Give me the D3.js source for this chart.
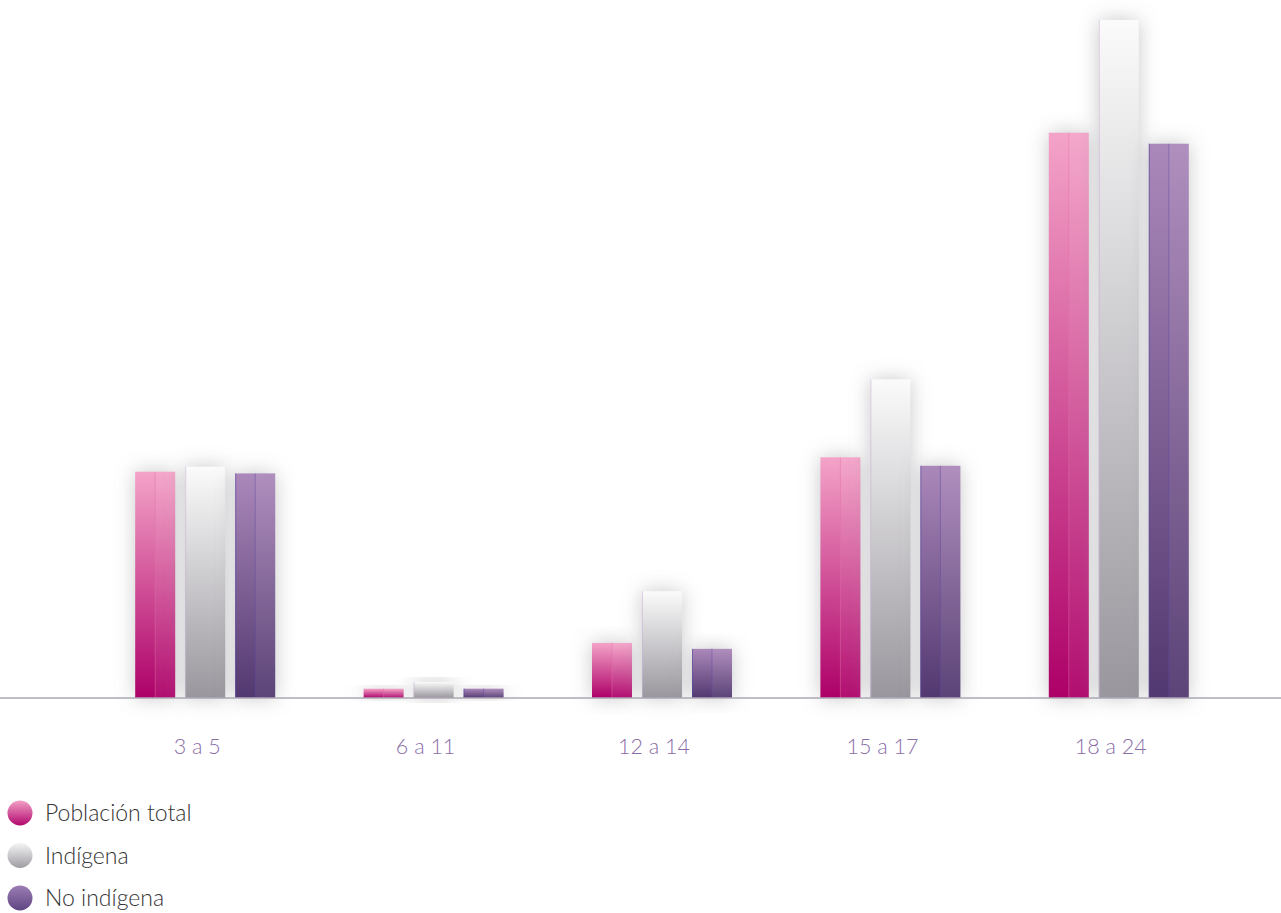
<!DOCTYPE html>
<html>
<head>
<meta charset="utf-8">
<script src="https://cdn.jsdelivr.net/npm/d3@7"></script>
<style>
  body { margin: 0; background: #fff; }
  svg { display: block; }
</style>
</head>
<body>
<script>
// age groups and the three series (percent)
const categories = ["3 a 5", "6 a 11", "12 a 14", "15 a 17", "18 a 24"];
const series = ["Población total", "Indígena", "No indígena"];
const poblacionTotal = [26.7, 1.1, 6.5, 28.4, 66.7];
const indigena = [27.3, 1.9, 12.6, 37.6, 80.0];
const noIndigena = [26.5, 1.1, 5.8, 27.4, 65.4];

const values = [poblacionTotal, indigena, noIndigena];
const width = 1281, height = 913;

const svg = d3.select("body").append("svg")
    .attr("width", width)
    .attr("height", height);

const defs = svg.append("defs");

const grads = [
  { id: "g0", top: "#f4a3c8", bottom: "#ad0068", edge: "#e070a8" },
  { id: "g1", top: "#fbfbfb", bottom: "#99969d", edge: "#c9b4d6" },
  { id: "g2", top: "#ab88ba", bottom: "#523870", edge: "#5a4aa0" }
];
grads.forEach(g => {
  const lg = defs.append("linearGradient")
      .attr("id", g.id)
      .attr("x1", 0).attr("y1", 0).attr("x2", 0).attr("y2", 1);
  lg.append("stop").attr("offset", "0%").attr("stop-color", g.top);
  lg.append("stop").attr("offset", "100%").attr("stop-color", g.bottom);
});

const shadow = defs.append("filter")
    .attr("id", "glow")
    .attr("x", "-80%").attr("y", "-30%")
    .attr("width", "260%").attr("height", "160%");
shadow.append("feGaussianBlur")
    .attr("in", "SourceAlpha")
    .attr("stdDeviation", 10)
    .attr("result", "blur");
shadow.append("feFlood").attr("flood-color", "#85858c").attr("flood-opacity", 0.45);
shadow.append("feComposite").attr("in2", "blur").attr("operator", "in");

const x0 = d3.scaleBand()
    .domain(categories)
    .range([91, 1233])
    .paddingInner(0.0);

const x1 = d3.scaleBand()
    .domain(d3.range(series.length))
    .range([x0.bandwidth() / 2 - 70, x0.bandwidth() / 2 + 70])
    .paddingInner(0.2);

const y = d3.scaleLinear()
    .domain([0, 80])
    .range([698, 20]);

const groups = svg.append("g")
  .selectAll("g")
  .data(categories)
  .join("g")
    .attr("transform", d => `translate(${x0(d)},0)`);

const bars = groups.selectAll("g.bar")
  .data((c, i) => values.map((s, k) => ({ k, v: s[i] })))
  .join("g")
    .attr("class", "bar");

// soft shadow behind each bar
bars.append("rect")
    .attr("x", d => x1(d.k))
    .attr("y", d => y(d.v))
    .attr("width", x1.bandwidth())
    .attr("height", d => y(0) - y(d.v))
    .attr("fill", "#000")
    .attr("filter", "url(#glow)");

// baseline
svg.append("line")
    .attr("x1", 0).attr("x2", width)
    .attr("y1", y(0)).attr("y2", y(0))
    .attr("stroke", "#aca7b5")
    .attr("stroke-width", 1.4);

bars.append("rect")
    .attr("x", d => x1(d.k))
    .attr("y", d => y(d.v))
    .attr("width", x1.bandwidth())
    .attr("height", d => y(0) - y(d.v))
    .attr("fill", d => `url(#${grads[d.k].id})`);

// faint middle split on the coloured bars
bars.filter(d => d.k !== 1).append("rect")
    .attr("x", d => x1(d.k) + x1.bandwidth() / 2)
    .attr("y", d => y(d.v))
    .attr("width", x1.bandwidth() / 2)
    .attr("height", d => y(0) - y(d.v))
    .attr("fill", "#fff")
    .attr("opacity", 0.06);
bars.filter(d => d.k !== 1).append("line")
    .attr("x1", d => x1(d.k) + x1.bandwidth() / 2)
    .attr("x2", d => x1(d.k) + x1.bandwidth() / 2)
    .attr("y1", d => y(d.v))
    .attr("y2", y(0))
    .attr("stroke", d => grads[d.k].edge)
    .attr("stroke-opacity", 0.45)
    .attr("stroke-width", 1);

// left edge line
bars.append("line")
    .attr("x1", d => x1(d.k) + 0.5)
    .attr("x2", d => x1(d.k) + 0.5)
    .attr("y1", d => y(d.v))
    .attr("y2", y(0))
    .attr("stroke", d => grads[d.k].edge)
    .attr("stroke-opacity", d => d.k === 0 ? 0 : 0.6)
    .attr("stroke-width", 1);

// category labels
svg.append("g")
  .selectAll("text")
  .data(categories)
  .join("text")
    .attr("x", d => x0(d) + x0.bandwidth() / 2 - 8)
    .attr("y", 754)
    .attr("text-anchor", "middle")
    .attr("font-family", "Lato, 'Open Sans', sans-serif")
    .attr("font-weight", 300)
    .attr("font-size", 21.5)
    .attr("fill", "#8a6ea8")
    .text(d => d);

// legend
const legGrads = [
  { id: "l0", top: "#f2a0c6", bottom: "#b2096d" },
  { id: "l1", top: "#f4f4f5", bottom: "#9f9ca3" },
  { id: "l2", top: "#9c7db4", bottom: "#5f4682" }
];
legGrads.forEach(g => {
  const lg = defs.append("linearGradient")
      .attr("id", g.id)
      .attr("x1", 0).attr("y1", 0).attr("x2", 0).attr("y2", 1);
  lg.append("stop").attr("offset", "0%").attr("stop-color", g.top);
  lg.append("stop").attr("offset", "100%").attr("stop-color", g.bottom);
});

const legend = svg.append("g")
  .selectAll("g")
  .data(series)
  .join("g")
    .attr("transform", (d, i) => `translate(20,${813 + i * 42.5})`);

legend.append("circle")
    .attr("r", 12.5)
    .attr("fill", (d, i) => `url(#${legGrads[i].id})`);

legend.append("text")
    .attr("x", 25)
    .attr("y", 8)
    .attr("font-family", "Lato, 'Open Sans', sans-serif")
    .attr("font-weight", 300)
    .attr("font-size", 23)
    .attr("fill", "#333")
    .text(d => d);
</script>
</body>
</html>
